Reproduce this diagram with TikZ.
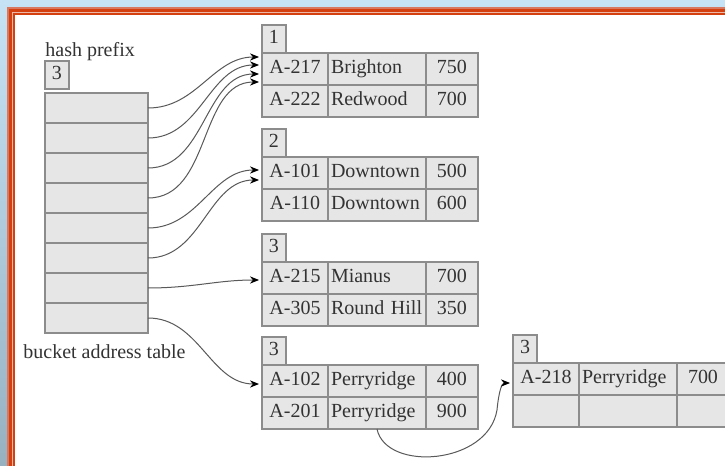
\documentclass[tikz,border=0pt]{standalone}
\usepackage{fontspec}
\setmainfont{Liberation Serif}
\usetikzlibrary{arrows.meta, positioning}

\definecolor{skytop}{HTML}{C6E3F5}
\definecolor{skybot}{HTML}{97B1C1}
\definecolor{rimred}{HTML}{D44010}
\definecolor{rimsoft}{HTML}{D87860}
\definecolor{rimpale}{HTML}{EEB8A8}
\definecolor{cellfill}{HTML}{E6E6E6}
\definecolor{cellline}{HTML}{8C8C8C}

\begin{document}
\begin{tikzpicture}[
        x=0.5pt, y=-0.5pt,
        cell/.style={rectangle, draw=cellline, fill=cellfill, line width=0.6pt, outer sep=0pt, inner xsep=1.5pt, inner ysep=0pt, minimum height=16pt, text height=6.8pt, text depth=2pt, text=black!80},
        acct/.style={cell, minimum width=33pt},
        branch/.style={cell, text width=46pt, align=left},
        bal/.style={cell, minimum width=26pt},
        tag/.style={cell, minimum width=12pt, minimum height=14pt, inner sep=0pt},
        slot/.style={cell, minimum width=51.5pt, minimum height=15pt},
        lbl/.style={inner sep=0pt, text=black!80},
        ptr/.style={-{Stealth[length=4.5pt, width=3.6pt, color=black]}, line width=0.5pt, color=black!65, shorten >=1.5pt}
    ]
        \useasboundingbox (0,0) rectangle (725,466);
        \clip (0,0) rectangle (725,466);
        % frame
        \fill[top color=skytop, bottom color=skybot] (0,0) rectangle (725,466);
        \fill[rimsoft] (7,7) rectangle (740,480);
        \fill[rimred] (9.3,9.3) rectangle (740,480);
        \fill[rimpale] (12,12) rectangle (740,480);
        \fill[rimred] (13.3,13.3) rectangle (740,480);
        \fill[white] (15,15) rectangle (740,480);

        % bucket address table
        \node[slot, anchor=north west] (s1) at (45,93) {};
        \node[slot, below=0pt of s1] (s2) {};
        \node[slot, below=0pt of s2] (s3) {};
        \node[slot, below=0pt of s3] (s4) {};
        \node[slot, below=0pt of s4] (s5) {};
        \node[slot, below=0pt of s5] (s6) {};
        \node[slot, below=0pt of s6] (s7) {};
        \node[slot, below=0pt of s7] (s8) {};
        \node[tag, anchor=south west] (gd) at ([yshift=2pt]s1.north west) {3};
        \node[lbl, anchor=base west] (hp) at ([yshift=2.5pt]gd.north west) {hash prefix};
        \node[lbl, anchor=base west] (bat) at ([xshift=-11pt, yshift=-12.5pt]s8.south west) {bucket address table};

        % bucket 1
        \node[tag, anchor=north west] (b1) at (262,25) {1};
        \node[acct, anchor=north west] (b1-11) at (b1.south west) {A-217};
        \node[branch, right=0pt of b1-11] (b1-12) {Brighton};
        \node[bal, right=0pt of b1-12] (b1-13) {750};
        \node[acct, below=0pt of b1-11] (b1-21) {A-222};
        \node[branch, right=0pt of b1-21] (b1-22) {Redwood};
        \node[bal, right=0pt of b1-22] (b1-23) {700};

        % bucket 2
        \node[tag, anchor=north west] (b2) at (262,129) {2};
        \node[acct, anchor=north west] (b2-11) at (b2.south west) {A-101};
        \node[branch, right=0pt of b2-11] (b2-12) {Downtown};
        \node[bal, right=0pt of b2-12] (b2-13) {500};
        \node[acct, below=0pt of b2-11] (b2-21) {A-110};
        \node[branch, right=0pt of b2-21] (b2-22) {Downtown};
        \node[bal, right=0pt of b2-22] (b2-23) {600};

        % bucket 3
        \node[tag, anchor=north west] (b3) at (262,234) {3};
        \node[acct, anchor=north west] (b3-11) at (b3.south west) {A-215};
        \node[branch, right=0pt of b3-11] (b3-12) {Mianus};
        \node[bal, right=0pt of b3-12] (b3-13) {700};
        \node[acct, below=0pt of b3-11] (b3-21) {A-305};
        \node[branch, right=0pt of b3-21] (b3-22) {Round Hill};
        \node[bal, right=0pt of b3-22] (b3-23) {350};

        % bucket 4
        \node[tag, anchor=north west] (b4) at (262,337) {3};
        \node[acct, anchor=north west] (b4-11) at (b4.south west) {A-102};
        \node[branch, right=0pt of b4-11] (b4-12) {Perryridge};
        \node[bal, right=0pt of b4-12] (b4-13) {400};
        \node[acct, below=0pt of b4-11] (b4-21) {A-201};
        \node[branch, right=0pt of b4-21] (b4-22) {Perryridge};
        \node[bal, right=0pt of b4-22] (b4-23) {900};

        % overflow bucket
        \node[tag, anchor=north west] (b5) at (513,335) {3};
        \node[acct, anchor=north west] (b5-11) at (b5.south west) {A-218};
        \node[branch, right=0pt of b5-11] (b5-12) {Perryridge};
        \node[bal, right=0pt of b5-12] (b5-13) {700};
        \node[acct, below=0pt of b5-11] (b5-21) {};
        \node[branch, right=0pt of b5-21] (b5-22) {};
        \node[bal, right=0pt of b5-22] (b5-23) {};

        % pointers
        \draw[ptr] (s1.east) to[out=0, in=180] ([yshift=6pt]b1-11.west);
        \draw[ptr] (s2.east) to[out=0, in=180] ([yshift=2pt]b1-11.west);
        \draw[ptr] (s3.east) to[out=0, in=180] ([yshift=-2.5pt]b1-11.west);
        \draw[ptr] (s4.east) to[out=0, in=180] ([yshift=-6.5pt]b1-11.west);
        \draw[ptr] (s5.east) to[out=0, in=180] ([yshift=1.5pt]b2-11.west);
        \draw[ptr] (s6.east) to[out=0, in=180] ([yshift=-3.5pt]b2-11.west);
        \draw[ptr] (s7.east) to[out=0, in=180] ([yshift=-1pt]b3-11.west);
        \draw[ptr] (s8.east) to[out=0, in=180] ([yshift=-1.5pt]b4-11.west);
        \draw[ptr] (b4-22.south) .. controls (386,472) and (488,465) .. (497,410)
            .. controls (499,390) and (502,383) .. ([yshift=-2pt]b5-11.west);
    \end{tikzpicture}
\end{document}
